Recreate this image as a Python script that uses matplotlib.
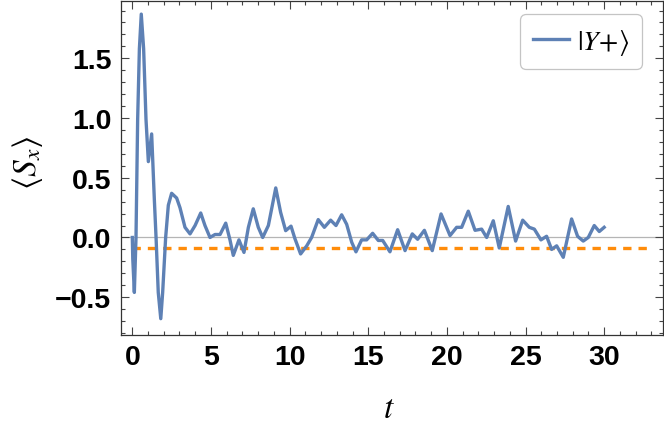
import matplotlib.pyplot as plt
import numpy as np
from matplotlib.ticker import MultipleLocator

# valeurs
t = [0, 0.03, 0.13, 0.235, 0.34, 0.45, 0.57, 0.72, 0.87, 1.02,
     1.23, 1.40, 1.51, 1.65, 1.81, 1.93, 2.12, 2.29, 2.50, 2.82,
     3.03, 3.35, 3.67, 3.99, 4.35, 4.62, 4.94, 5.26, 5.58, 5.94,
     6.21, 6.42, 6.78, 7.10, 7.38, 7.69, 8.01, 8.29, 8.65, 9.12,
     9.43, 9.75, 10.09, 10.34, 10.70, 11.09, 11.40, 11.82, 12.21, 12.61,
     12.95, 13.31, 13.63, 13.95, 14.22, 14.58, 14.90, 15.28, 15.64, 15.92,
     16.38, 16.87, 17.34, 17.80, 18.14, 18.57, 19.07, 19.63, 20.20, 20.62,
     20.94, 21.36, 21.79, 22.21, 22.53, 22.95, 23.33, 23.90, 24.37, 24.82,
     25.24, 25.56, 25.98, 26.34, 26.66, 26.98, 27.40, 27.93, 28.31, 28.67,
     28.99, 29.37, 29.69, 30.0]
sx = [0, -0.18, -0.46, 0, 0.99, 1.58, 1.87, 1.58, 0.99, 0.635,
      0.867, 0.32, 0, -0.46, -0.68, -0.46, 0, 0.27, 0.37, 0.33,
      0.25, 0.085, 0.03, 0.10, 0.205, 0.10, 0, 0.025, 0.025, 0.12,
      -0.02, -0.15, -0.02, -0.125, 0.085, 0.24, 0.085, 0, 0.10, 0.415,
      0.21, 0.057, 0.095, -0.01, -0.138, -0.07, 0, 0.15, 0.085, 0.145,
      0.10, 0.19, 0.11, -0.04, -0.12, -0.02, -0.02, 0.035, -0.025, -0.025,
      -0.12, 0.065, -0.11, 0.03, -0.015, 0.06, -0.11, 0.197, 0.016, 0.085,
      0.085, 0.22, 0.06, 0.07, 0, 0.14, -0.088, 0.26, -0.03, 0.145,
      0.085, 0.07, -0.02, 0.01, -0.10, -0.07, -0.166, 0.155, 0.01, -0.03,
      0, 0.10, 0.05, 0.085]

t_moy = [0, 33]       # ligne horizontale (moyenne)
s_moy = [-0.09, -0.09]

plt.rcParams['mathtext.fontset'] = 'stix'

fig = plt.figure(figsize=(6.64, 4.31), dpi=100)
ax = fig.add_axes([0.1822, 0.2211, 0.8158, 0.7743])

ax.axhline(0, color='#b5b5b5', lw=0.9, zorder=1)
ax.plot(t, sx, color='#5e81b5', lw=2.4, solid_joinstyle='round', label=r'$|Y\!+\!\rangle$', zorder=3)
ax.plot(t_moy, s_moy, color='#ff8c0a', lw=2.4, dashes=(2.5, 2.1), zorder=2)

ax.set_xlim(-0.72, 33.72)
ax.set_ylim(-0.814, 1.98)

ax.xaxis.set_major_locator(MultipleLocator(5))
ax.xaxis.set_minor_locator(MultipleLocator(1))
ax.yaxis.set_major_locator(MultipleLocator(0.5))
ax.yaxis.set_minor_locator(MultipleLocator(0.1))
ax.tick_params(which='both', direction='in', top=True, right=True, color='#444444', width=0.8)
ax.tick_params(which='major', length=5.5, pad=7)
ax.tick_params(which='minor', length=3)
for lab in ax.get_xticklabels() + ax.get_yticklabels():
    lab.set_fontfamily('Liberation Sans')
    lab.set_fontweight('bold')
    lab.set_fontsize(20.5)
for sp in ax.spines.values():
    sp.set_color('#333333')
    sp.set_linewidth(0.9)

ax.set_xlabel(r'$t$', fontsize=24)
ax.xaxis.set_label_coords(0.495, -0.217)
ax.xaxis.label.set_va('center')
ax.set_ylabel(r'$\langle S_x \rangle$', fontsize=24)
ax.yaxis.set_label_coords(-0.172, 0.52)
ax.yaxis.label.set_va('center')

leg = ax.legend(loc='upper right', bbox_to_anchor=(642 / 664, 1 - 15 / 431),
                bbox_transform=fig.transFigure, borderaxespad=0, fontsize=20,
                fancybox=True, framealpha=1, edgecolor='#c4c4c4',
                handlelength=1.3, handletextpad=0.3, borderpad=0.45)
leg.get_frame().set_linewidth(0.9)

fig.savefig('out.png', dpi=100)
